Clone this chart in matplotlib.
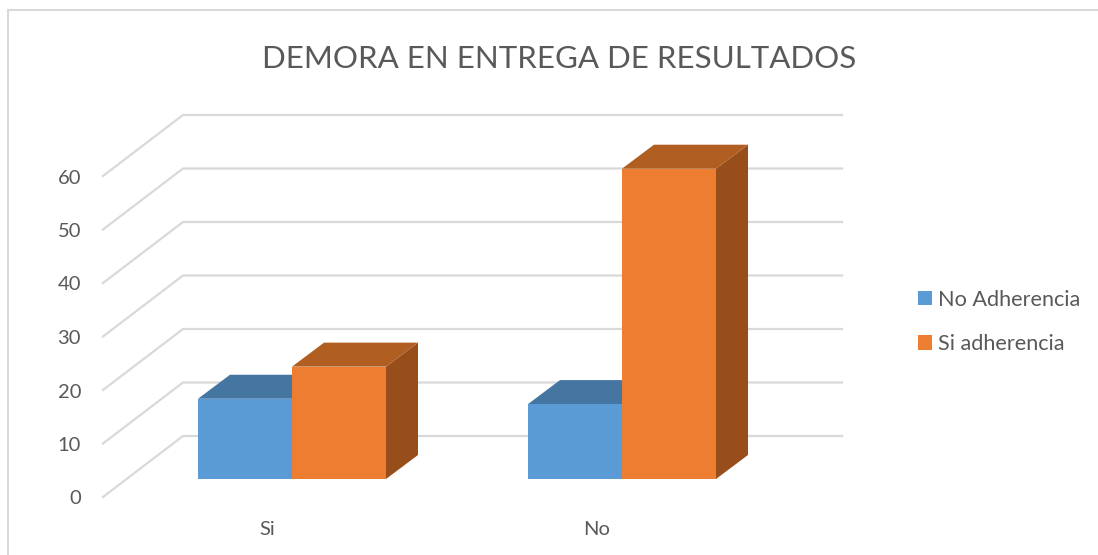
import matplotlib
matplotlib.use("Agg")
import matplotlib.pyplot as plt
from matplotlib.lines import Line2D
from matplotlib.patches import Patch, Polygon, Rectangle

plt.rcParams["font.family"] = ["Lato", "DejaVu Sans"]

TITLE = "DEMORA EN ENTREGA DE RESULTADOS"
categories = ["Si", "No"]
series_names = ["No Adherencia", "Si adherencia"]
no_adherencia = [15, 14]
si_adherencia = [21, 58]
y_ticks = [0, 10, 20, 30, 40, 50, 60]

TEXT = "#595959"
GRID = "#D9D9D9"
# front, top, side
BLUE = ("#5B9BD5", "#4575A1", "#3F6E99")
ORANGE = ("#ED7D31", "#B15E22", "#974E1B")

W, H = 1098, 555
PX_X = 330.0    # pixels per category
PX_Y = 5.35     # pixels per unit
BASE_PX = 479   # pixel row of the bars' front bottom edge
CAT0_PX = 292   # pixel column of first category centre
BAR_W = 94 / PX_X

# 3D offsets in data units
DEPTH_X = 32 / PX_X
DEPTH_Y = 24 / PX_Y
WALL_Y = (BASE_PX - 436) / PX_Y      # back wall sits this far above the bars' base
FRONT_Y = (497 - 436) / PX_Y         # drop of the diagonal gridlines
WALL_X0 = (183 - CAT0_PX) / PX_X
WALL_X1 = (842 - CAT0_PX) / PX_X
FRONT_X = (103 - CAT0_PX) / PX_X


def draw_bar(ax, x, value, colors):
    x1 = x + BAR_W
    ax.add_patch(Polygon([(x1, 0), (x1 + DEPTH_X, DEPTH_Y), (x1 + DEPTH_X, value + DEPTH_Y), (x1, value)],
                         facecolor=colors[2], edgecolor="none", zorder=3))
    ax.add_patch(Polygon([(x, value), (x + DEPTH_X, value + DEPTH_Y), (x1 + DEPTH_X, value + DEPTH_Y), (x1, value)],
                         facecolor=colors[1], edgecolor="none", zorder=3))
    ax.add_patch(Rectangle((x, 0), BAR_W, value, facecolor=colors[0], edgecolor="none", zorder=3))


def main():
    fig = plt.figure(figsize=(W / 100, H / 100), dpi=100)
    ax = fig.add_axes([0, 0, 1, 1])
    ax.set_xlim(-CAT0_PX / PX_X, (W - CAT0_PX) / PX_X)
    ax.set_ylim(-(H - BASE_PX) / PX_Y, BASE_PX / PX_Y)
    ax.axis("off")

    # chart frame: only left and top edges are inside the crop
    fig.add_artist(Line2D([8 / W, 8 / W, 1], [0, 1 - 10 / H, 1 - 10 / H], transform=fig.transFigure,
                          color=GRID, linewidth=1.5, solid_joinstyle="miter"))

    for v in y_ticks:
        ax.plot([FRONT_X, WALL_X0, WALL_X1],
                [v + WALL_Y - FRONT_Y, v + WALL_Y, v + WALL_Y],
                color=GRID, linewidth=1.6, zorder=1, solid_joinstyle="miter")
        ax.text((81 - CAT0_PX) / PX_X, v + WALL_Y - FRONT_Y - 0.5 / PX_Y, str(v),
                ha="right", va="center_baseline", fontsize=14.5, color=TEXT)

    for i, cat in enumerate(categories):
        draw_bar(ax, i - BAR_W, no_adherencia[i], BLUE)
        draw_bar(ax, i, si_adherencia[i], ORANGE)
        ax.text(i - 25 / PX_X, -49 / PX_Y, cat, ha="center", va="center_baseline", fontsize=14.5, color=TEXT)

    fig.text(559 / W, 1 - 56 / H, TITLE, ha="center", va="center_baseline", fontsize=22.5, color=TEXT)

    handles = [Patch(facecolor=BLUE[0], label=series_names[0]),
               Patch(facecolor=ORANGE[0], label=series_names[1])]
    fig.legend(handles=handles, loc="center left", bbox_to_anchor=(918 / W, 1 - 322 / H),
               frameon=False, fontsize=15.6, labelcolor=TEXT, handlelength=0.65, handleheight=0.65,
               handletextpad=0.28, labelspacing=1.12, borderpad=0, borderaxespad=0)

    fig.savefig("out.png", dpi=100)
    plt.close(fig)


if __name__ == "__main__":
    main()
